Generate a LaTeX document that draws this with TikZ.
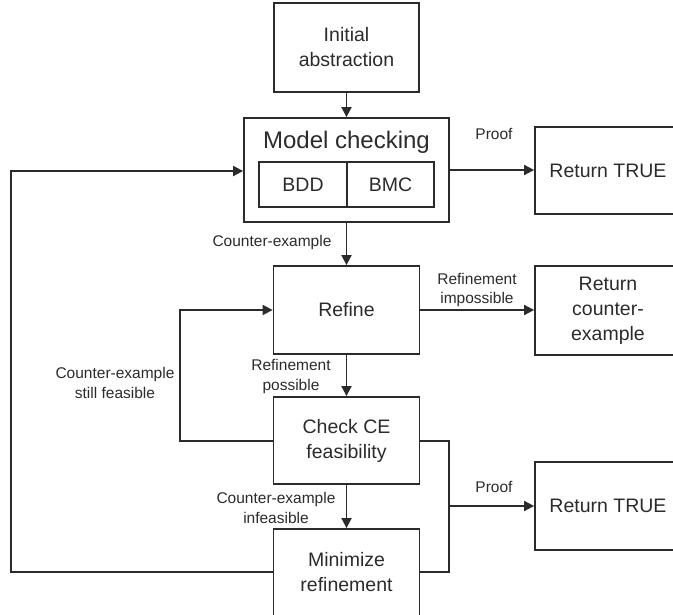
\documentclass[tikz,border=0pt]{standalone}
\usepackage{fontspec}
\setmainfont{Liberation Sans}
\usetikzlibrary{arrows.meta}
\definecolor{ink}{gray}{0.17}
\tikzset{
  boxn/.style={draw=ink, line width=1.8pt, minimum width=146pt, inner sep=0pt, align=center, text=ink,
     font=\fontsize{19.5}{25}\selectfont},
  lab/.style={align=center, text=ink, font=\fontsize{15.5}{19.5}\selectfont, inner sep=0pt},
  conn/.style={draw=ink, line width=1.8pt},
  arr/.style={conn, -{Triangle[length=10pt,width=10pt]}}
}
\begin{document}
\begin{tikzpicture}[x=1pt,y=-1pt]
\useasboundingbox (0,0) rectangle (673,615);
% nodes
\node[boxn, minimum width=145pt, minimum height=89pt] (init) at (346.5,47.5) {Initial\\abstraction};
\node[draw=ink, line width=1.8pt, minimum width=205pt, minimum height=104pt, inner sep=0pt] (mc) at (346.5,170) {};
\node[text=ink, font=\fontsize{24}{28}\selectfont, inner sep=0pt] (mct) at (346.5,142) {Model checking};
\node[boxn, minimum width=88pt, minimum height=45pt] (bdd) at (303,184.5) {BDD};
\node[boxn, minimum width=87pt, minimum height=45pt] (bmc) at (390.5,184.5) {BMC};
\node[boxn, minimum height=87pt] (rt1) at (608,170.5) {Return TRUE};
\node[boxn, minimum height=88pt] (refine) at (346.5,310) {Refine};
\node[boxn, minimum height=89pt] (rce) at (608,310.5) {Return\\counter-\\example};
\node[boxn, minimum height=87pt] (check) at (346.5,440.5) {Check CE\\feasibility};
\node[boxn, minimum height=87pt] (mini) at (346.5,572.5) {Minimize\\refinement};
\node[boxn, minimum height=88pt] (rt2) at (608,506) {Return TRUE};
% coordinates
\coordinate (lc) at (180,441);
\coordinate (lt) at (180,310);
\coordinate (fb) at (11,572);
\coordinate (ft) at (11,171);
\coordinate (rc) at (449,441);
\coordinate (rb) at (449,572);
\coordinate (rm) at (449,506);
% connectors
\draw[arr] (init.south) -- (mc.north);
\draw[arr] (mc.east |- 0,170) -- (rt1.west |- 0,170);
\draw[arr] (mc.south) -- (refine.north);
\draw[arr] (refine.east) -- (rce.west |- refine.east);
\draw[arr] (refine.south) -- (check.north);
\draw[arr] (check.south) -- (mini.north);
\draw[arr] (check.west |- lc) -- (lc) -- (lt) -- (refine.west);
\draw[arr] (mini.west |- fb) -- (fb) -- (ft) -- (mc.west |- ft);
\draw[conn] (check.east |- rc) -- (rc) -- (rb) -- (mini.east |- rb);
\draw[arr] (rm) -- (rt2.west |- rm);
% labels
\node[lab] (l1) at (494,134) {Proof};
\node[lab] (l2) at (272,242) {Counter-example};
\node[lab] (l3) at (477,290) {Refinement\\impossible};
\node[lab] (l4) at (291,376.5) {Refinement\\possible};
\node[lab] (l5) at (115,383) {Counter-example\\still feasible};
\node[lab] (l6) at (276,508) {Counter-example\\infeasible};
\node[lab] (l7) at (494,487) {Proof};
\end{tikzpicture}
\end{document}
